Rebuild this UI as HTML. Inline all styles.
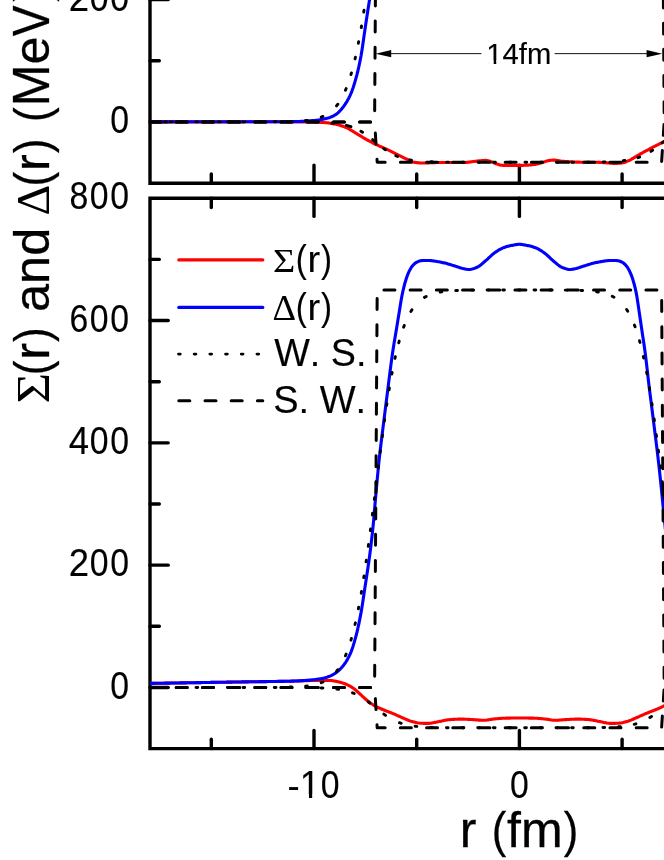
<!DOCTYPE html>
<html><head><meta charset="utf-8"><title>fig</title>
<style>html,body{margin:0;padding:0;background:#fff;}body{width:664px;height:860px;overflow:hidden;}svg{display:block;}text{font-family:"Liberation Sans",sans-serif;fill:#000;}.sym{font-family:"Liberation Serif",serif;}</style></head><body>
<svg width="664" height="860" viewBox="0 0 664 860">
<rect width="664" height="860" fill="#fff"/>
<g stroke="#000" stroke-width="3.4" fill="none" stroke-linecap="round" stroke-linejoin="miter">
<path d="M150.0 -5 V183.3 H700" stroke-linecap="butt"/>
<path d="M700 198.2 H150.0 V748.6 H700" stroke-linecap="butt"/>
<path d="M211.30 183.3 v-9.3"/>
<path d="M211.30 198.2 v9.3"/>
<path d="M211.30 748.6 v-9.3"/>
<path d="M314.00 183.3 v-18.2"/>
<path d="M314.00 198.2 v18.2"/>
<path d="M314.00 748.6 v-18.2"/>
<path d="M416.70 183.3 v-9.3"/>
<path d="M416.70 198.2 v9.3"/>
<path d="M416.70 748.6 v-9.3"/>
<path d="M519.40 183.3 v-18.2"/>
<path d="M519.40 198.2 v18.2"/>
<path d="M519.40 748.6 v-18.2"/>
<path d="M622.10 183.3 v-9.3"/>
<path d="M622.10 198.2 v9.3"/>
<path d="M622.10 748.6 v-9.3"/>
<path d="M724.80 183.3 v-18.2"/>
<path d="M724.80 198.2 v18.2"/>
<path d="M724.80 748.6 v-18.2"/>
<path d="M827.50 183.3 v-9.3"/>
<path d="M827.50 198.2 v9.3"/>
<path d="M827.50 748.6 v-9.3"/>
<path d="M150.0 687.45 h18.2"/>
<path d="M150.0 626.30 h9.3"/>
<path d="M150.0 565.15 h18.2"/>
<path d="M150.0 504.00 h9.3"/>
<path d="M150.0 442.85 h18.2"/>
<path d="M150.0 381.70 h9.3"/>
<path d="M150.0 320.55 h18.2"/>
<path d="M150.0 259.40 h9.3"/>
<path d="M150.0 121.90 h18.2"/>
<path d="M150.0 60.75 h9.3"/>
<path d="M150.0 -0.40 h18.2"/>
</g>
<clipPath id="ct"><rect x="150.0" y="-10.0" width="600" height="193.3"/></clipPath>
<g clip-path="url(#ct)" fill="none" stroke-linejoin="round">
<path d="M140.00 121.90 L141.00 121.90 L142.00 121.90 L143.00 121.90 L144.00 121.90 L145.00 121.90 L146.00 121.90 L147.00 121.90 L148.00 121.90 L149.00 121.90 L150.00 121.90 L151.00 121.90 L152.00 121.90 L153.00 121.90 L154.00 121.90 L155.00 121.90 L156.00 121.90 L157.00 121.90 L158.00 121.90 L159.00 121.90 L160.00 121.90 L161.00 121.90 L162.00 121.90 L163.00 121.90 L164.00 121.90 L165.00 121.90 L166.00 121.90 L167.00 121.90 L168.00 121.90 L169.00 121.89 L170.00 121.89 L171.00 121.89 L172.00 121.89 L173.00 121.89 L174.00 121.89 L175.00 121.89 L176.00 121.89 L177.00 121.89 L178.00 121.89 L179.00 121.89 L180.00 121.89 L181.00 121.89 L182.00 121.89 L183.00 121.89 L184.00 121.89 L185.00 121.88 L186.00 121.88 L187.00 121.88 L188.00 121.88 L189.00 121.88 L190.00 121.88 L191.00 121.88 L192.00 121.88 L193.00 121.88 L194.00 121.88 L195.00 121.88 L196.00 121.87 L197.00 121.87 L198.00 121.87 L199.00 121.87 L200.00 121.87 L201.00 121.87 L202.00 121.87 L203.00 121.87 L204.00 121.87 L205.00 121.87 L206.00 121.86 L207.00 121.86 L208.00 121.86 L209.00 121.86 L210.00 121.86 L211.00 121.86 L212.00 121.86 L213.00 121.86 L214.00 121.86 L215.00 121.86 L216.00 121.85 L217.00 121.85 L218.00 121.85 L219.00 121.85 L220.00 121.85 L221.00 121.85 L222.00 121.85 L223.00 121.85 L224.00 121.85 L225.00 121.84 L226.00 121.84 L227.00 121.84 L228.00 121.84 L229.00 121.84 L230.00 121.84 L231.00 121.84 L232.00 121.84 L233.00 121.84 L234.00 121.84 L235.00 121.83 L236.00 121.83 L237.00 121.83 L238.00 121.83 L239.00 121.83 L240.00 121.83 L241.00 121.83 L242.00 121.83 L243.00 121.83 L244.00 121.83 L245.00 121.82 L246.00 121.82 L247.00 121.82 L248.00 121.82 L249.00 121.82 L250.00 121.82 L251.00 121.82 L252.00 121.82 L253.00 121.82 L254.00 121.82 L255.00 121.82 L256.00 121.81 L257.00 121.81 L258.00 121.81 L259.00 121.81 L260.00 121.81 L261.00 121.81 L262.00 121.81 L263.00 121.81 L264.00 121.81 L265.00 121.81 L266.00 121.81 L267.00 121.81 L268.00 121.81 L269.00 121.81 L270.00 121.81 L271.00 121.81 L272.00 121.80 L273.00 121.80 L274.00 121.80 L275.00 121.80 L276.00 121.80 L277.00 121.80 L278.00 121.80 L279.00 121.80 L280.00 121.80 L281.00 121.80 L282.00 121.80 L283.00 121.80 L284.00 121.80 L285.00 121.80 L286.00 121.80 L287.00 121.80 L288.00 121.80 L289.00 121.80 L290.00 121.80 L291.00 121.80 L292.00 121.80 L293.00 121.81 L294.00 121.81 L295.00 121.81 L296.00 121.82 L297.00 121.83 L298.00 121.84 L299.00 121.84 L300.00 121.85 L301.00 121.87 L302.00 121.88 L303.00 121.89 L304.00 121.90 L305.00 121.92 L306.00 121.93 L307.00 121.95 L308.00 121.97 L309.00 121.98 L310.00 122.00 L311.00 122.02 L312.00 122.04 L313.00 122.06 L314.00 122.08 L315.00 122.10 L316.00 122.12 L317.00 122.16 L318.00 122.19 L319.00 122.23 L320.00 122.28 L321.00 122.34 L322.00 122.40 L323.00 122.46 L324.00 122.53 L325.00 122.60 L326.00 122.68 L327.00 122.79 L328.00 122.91 L329.00 123.05 L330.00 123.20 L331.00 123.36 L332.00 123.53 L333.00 123.72 L334.00 123.91 L335.00 124.10 L336.00 124.30 L337.00 124.53 L338.00 124.79 L339.00 125.07 L340.00 125.36 L341.00 125.66 L342.00 125.98 L343.00 126.31 L344.00 126.66 L345.00 127.04 L346.00 127.46 L347.00 127.92 L348.00 128.44 L349.00 129.00 L350.00 129.58 L351.00 130.17 L352.00 130.75 L353.00 131.36 L354.00 131.98 L355.00 132.61 L356.00 133.23 L357.00 133.84 L358.00 134.45 L359.00 135.06 L360.00 135.66 L361.00 136.26 L362.00 136.86 L363.00 137.46 L364.00 138.05 L365.00 138.64 L366.00 139.22 L367.00 139.79 L368.00 140.34 L369.00 140.89 L370.00 141.43 L371.00 141.96 L372.00 142.49 L373.00 143.00 L374.00 143.51 L375.00 144.01 L376.00 144.49 L377.00 144.96 L378.00 145.42 L379.00 145.87 L380.00 146.31 L381.00 146.75 L382.00 147.20 L383.00 147.64 L384.00 148.10 L385.00 148.56 L386.00 149.02 L387.00 149.49 L388.00 149.95 L389.00 150.42 L390.00 150.89 L391.00 151.37 L392.00 151.84 L393.00 152.32 L394.00 152.81 L395.00 153.30 L396.00 153.80 L397.00 154.31 L398.00 154.84 L399.00 155.36 L400.00 155.88 L401.00 156.40 L402.00 156.91 L403.00 157.40 L404.00 157.88 L405.00 158.35 L406.00 158.80 L407.00 159.26 L408.00 159.70 L409.00 160.17 L410.00 160.68 L411.00 161.18 L412.00 161.63 L413.00 161.99 L414.00 162.22 L415.00 162.38 L416.00 162.53 L417.00 162.66 L418.00 162.78 L419.00 162.87 L420.00 162.94 L421.00 162.99 L422.00 163.00 L423.00 162.99 L424.00 162.98 L425.00 162.96 L426.00 162.93 L427.00 162.90 L428.00 162.87 L429.00 162.83 L430.00 162.79 L431.00 162.74 L432.00 162.70 L433.00 162.66 L434.00 162.62 L435.00 162.59 L436.00 162.56 L437.00 162.53 L438.00 162.51 L439.00 162.50 L440.00 162.50 L441.00 162.50 L442.00 162.50 L443.00 162.50 L444.00 162.50 L445.00 162.50 L446.00 162.50 L447.00 162.50 L448.00 162.50 L449.00 162.50 L450.00 162.50 L451.00 162.50 L452.00 162.50 L453.00 162.50 L454.00 162.50 L455.00 162.50 L456.00 162.50 L457.00 162.50 L458.00 162.50 L459.00 162.50 L460.00 162.50 L461.00 162.50 L462.00 162.50 L463.00 162.50 L464.00 162.50 L465.00 162.47 L466.00 162.41 L467.00 162.33 L468.00 162.23 L469.00 162.11 L470.00 161.98 L471.00 161.85 L472.00 161.72 L473.00 161.58 L474.00 161.46 L475.00 161.35 L476.00 161.25 L477.00 161.14 L478.00 161.03 L479.00 160.91 L480.00 160.79 L481.00 160.68 L482.00 160.58 L483.00 160.50 L484.00 160.44 L485.00 160.40 L486.00 160.42 L487.00 160.54 L488.00 160.75 L489.00 161.02 L490.00 161.33 L491.00 161.65 L492.00 161.96 L493.00 162.36 L494.00 162.81 L495.00 163.28 L496.00 163.72 L497.00 164.08 L498.00 164.36 L499.00 164.64 L500.00 164.90 L501.00 165.13 L502.00 165.30 L503.00 165.39 L504.00 165.40 L505.00 165.40 L506.00 165.40 L507.00 165.40 L508.00 165.40 L509.00 165.40 L510.00 165.40 L511.00 165.40 L512.00 165.40 L513.00 165.40 L514.00 165.40 L515.00 165.40 L516.00 165.40 L517.00 165.40 L518.00 165.40 L519.00 165.40 L520.00 165.40 L521.00 165.39 L522.00 165.37 L523.00 165.34 L524.00 165.30 L525.00 165.26 L526.00 165.21 L527.00 165.16 L528.00 165.09 L529.00 165.03 L530.00 164.95 L531.00 164.88 L532.00 164.80 L533.00 164.70 L534.00 164.55 L535.00 164.36 L536.00 164.15 L537.00 163.92 L538.00 163.68 L539.00 163.44 L540.00 163.20 L541.00 162.94 L542.00 162.64 L543.00 162.31 L544.00 161.97 L545.00 161.63 L546.00 161.30 L547.00 161.00 L548.00 160.74 L549.00 160.53 L550.00 160.39 L551.00 160.28 L552.00 160.19 L553.00 160.12 L554.00 160.10 L555.00 160.15 L556.00 160.26 L557.00 160.42 L558.00 160.60 L559.00 160.79 L560.00 160.97 L561.00 161.12 L562.00 161.22 L563.00 161.29 L564.00 161.37 L565.00 161.45 L566.00 161.52 L567.00 161.59 L568.00 161.66 L569.00 161.73 L570.00 161.79 L571.00 161.85 L572.00 161.91 L573.00 161.96 L574.00 162.01 L575.00 162.05 L576.00 162.09 L577.00 162.13 L578.00 162.15 L579.00 162.17 L580.00 162.19 L581.00 162.20 L582.00 162.20 L583.00 162.20 L584.00 162.20 L585.00 162.20 L586.00 162.20 L587.00 162.20 L588.00 162.20 L589.00 162.20 L590.00 162.20 L591.00 162.20 L592.00 162.20 L593.00 162.20 L594.00 162.20 L595.00 162.21 L596.00 162.23 L597.00 162.27 L598.00 162.31 L599.00 162.36 L600.00 162.42 L601.00 162.48 L602.00 162.55 L603.00 162.61 L604.00 162.67 L605.00 162.73 L606.00 162.80 L607.00 162.88 L608.00 162.97 L609.00 163.05 L610.00 163.14 L611.00 163.22 L612.00 163.29 L613.00 163.35 L614.00 163.38 L615.00 163.40 L616.00 163.39 L617.00 163.36 L618.00 163.31 L619.00 163.24 L620.00 163.16 L621.00 163.06 L622.00 162.96 L623.00 162.83 L624.00 162.59 L625.00 162.26 L626.00 161.86 L627.00 161.42 L628.00 160.96 L629.00 160.51 L630.00 160.03 L631.00 159.49 L632.00 158.91 L633.00 158.32 L634.00 157.71 L635.00 157.10 L636.00 156.51 L637.00 155.94 L638.00 155.37 L639.00 154.79 L640.00 154.21 L641.00 153.63 L642.00 153.06 L643.00 152.49 L644.00 151.93 L645.00 151.38 L646.00 150.84 L647.00 150.31 L648.00 149.79 L649.00 149.26 L650.00 148.75 L651.00 148.23 L652.00 147.72 L653.00 147.20 L654.00 146.68 L655.00 146.17 L656.00 145.65 L657.00 145.14 L658.00 144.63 L659.00 144.12 L660.00 143.61 L661.00 143.10 L662.00 142.60 L663.00 142.10 L664.00 141.60 L665.00 141.10 L666.00 140.61 L667.00 140.11 L668.00 139.61 L669.00 139.12 L670.00 138.63 L671.00 138.14 L672.00 137.66 L673.00 137.18 L674.00 136.71 L675.00 136.25 L676.00 135.80 L677.00 135.36 L678.00 134.91 L679.00 134.48 L680.00 134.05 L681.00 133.62 L682.00 133.20 L683.00 132.78 L684.00 132.36 L685.00 131.96 L686.00 131.55 L687.00 131.16 L688.00 130.77 L689.00 130.38 L690.00 130.00" stroke="#f00" stroke-width="3.1"/>
<path d="M140.00 121.80 L141.00 121.80 L142.00 121.80 L143.00 121.80 L144.00 121.80 L145.00 121.80 L146.00 121.80 L147.00 121.80 L148.00 121.80 L149.00 121.80 L150.00 121.80 L151.00 121.80 L152.00 121.80 L153.00 121.80 L154.00 121.80 L155.00 121.80 L156.00 121.80 L157.00 121.80 L158.00 121.80 L159.00 121.80 L160.00 121.80 L161.00 121.80 L162.00 121.80 L163.00 121.80 L164.00 121.80 L165.00 121.80 L166.00 121.80 L167.00 121.80 L168.00 121.80 L169.00 121.80 L170.00 121.80 L171.00 121.80 L172.00 121.80 L173.00 121.80 L174.00 121.80 L175.00 121.80 L176.00 121.80 L177.00 121.80 L178.00 121.80 L179.00 121.80 L180.00 121.80 L181.00 121.80 L182.00 121.80 L183.00 121.80 L184.00 121.80 L185.00 121.80 L186.00 121.80 L187.00 121.80 L188.00 121.80 L189.00 121.80 L190.00 121.80 L191.00 121.79 L192.00 121.79 L193.00 121.79 L194.00 121.79 L195.00 121.79 L196.00 121.79 L197.00 121.79 L198.00 121.79 L199.00 121.79 L200.00 121.79 L201.00 121.79 L202.00 121.79 L203.00 121.79 L204.00 121.79 L205.00 121.79 L206.00 121.79 L207.00 121.79 L208.00 121.79 L209.00 121.79 L210.00 121.79 L211.00 121.79 L212.00 121.79 L213.00 121.79 L214.00 121.79 L215.00 121.78 L216.00 121.78 L217.00 121.78 L218.00 121.78 L219.00 121.78 L220.00 121.78 L221.00 121.78 L222.00 121.78 L223.00 121.78 L224.00 121.78 L225.00 121.78 L226.00 121.78 L227.00 121.78 L228.00 121.78 L229.00 121.78 L230.00 121.78 L231.00 121.77 L232.00 121.77 L233.00 121.77 L234.00 121.77 L235.00 121.77 L236.00 121.77 L237.00 121.77 L238.00 121.77 L239.00 121.77 L240.00 121.77 L241.00 121.77 L242.00 121.77 L243.00 121.76 L244.00 121.76 L245.00 121.76 L246.00 121.76 L247.00 121.76 L248.00 121.76 L249.00 121.76 L250.00 121.76 L251.00 121.76 L252.00 121.75 L253.00 121.75 L254.00 121.75 L255.00 121.75 L256.00 121.75 L257.00 121.75 L258.00 121.75 L259.00 121.75 L260.00 121.75 L261.00 121.74 L262.00 121.74 L263.00 121.74 L264.00 121.74 L265.00 121.74 L266.00 121.74 L267.00 121.74 L268.00 121.74 L269.00 121.73 L270.00 121.73 L271.00 121.73 L272.00 121.73 L273.00 121.73 L274.00 121.73 L275.00 121.73 L276.00 121.72 L277.00 121.72 L278.00 121.72 L279.00 121.72 L280.00 121.72 L281.00 121.72 L282.00 121.71 L283.00 121.71 L284.00 121.71 L285.00 121.71 L286.00 121.71 L287.00 121.71 L288.00 121.70 L289.00 121.70 L290.00 121.70 L291.00 121.70 L292.00 121.69 L293.00 121.67 L294.00 121.65 L295.00 121.63 L296.00 121.60 L297.00 121.56 L298.00 121.53 L299.00 121.49 L300.00 121.44 L301.00 121.39 L302.00 121.34 L303.00 121.28 L304.00 121.23 L305.00 121.16 L306.00 121.10 L307.00 121.03 L308.00 120.96 L309.00 120.89 L310.00 120.82 L311.00 120.74 L312.00 120.67 L313.00 120.59 L314.00 120.51 L315.00 120.42 L316.00 120.32 L317.00 120.21 L318.00 120.09 L319.00 119.95 L320.00 119.80 L321.00 119.63 L322.00 119.46 L323.00 119.27 L324.00 119.06 L325.00 118.85 L326.00 118.62 L327.00 118.37 L328.00 118.08 L329.00 117.76 L330.00 117.39 L331.00 116.98 L332.00 116.54 L333.00 116.06 L334.00 115.53 L335.00 114.98 L336.00 114.38 L337.00 113.66 L338.00 112.81 L339.00 111.85 L340.00 110.79 L341.00 109.65 L342.00 108.45 L343.00 107.20 L344.00 105.89 L345.00 104.48 L346.00 102.97 L347.00 101.33 L348.00 99.57 L349.00 97.67 L350.00 95.63 L351.00 93.38 L352.00 90.83 L353.00 88.01 L354.00 84.94 L355.00 81.65 L356.00 78.18 L357.00 74.48 L358.00 70.42 L359.00 65.98 L360.00 61.15 L361.00 55.94 L362.00 50.00 L363.00 43.20 L364.00 36.11 L365.00 29.29 L366.00 22.58 L367.00 15.92 L368.00 9.46 L369.00 3.26 L370.00 -3.44 L371.00 -10.66 L372.00 -18.19 L373.00 -25.85 L374.00 -33.69 L375.00 -41.74 L376.00 -50.00" stroke="#00f" stroke-width="3.1"/>
<path d="M149.68 121.90 L150.78 121.90M164.73 121.90 L166.43 121.90M180.38 121.90 L182.08 121.90M196.03 121.90 L197.73 121.90M211.68 121.90 L213.38 121.90M227.33 121.90 L229.03 121.90M242.98 121.89 L244.68 121.89M258.63 121.87 L260.33 121.87M274.28 121.79 L275.98 121.78M289.93 121.52 L291.63 121.46M305.58 120.55 L307.28 120.35M321.23 117.14 L322.93 116.45M336.53 105.90 L337.83 104.20M345.46 90.25 L346.16 88.55M350.95 74.60 L351.44 72.90M355.03 58.95 L355.42 57.25M358.36 43.30 L358.69 41.60M361.22 27.65 L361.51 25.95M363.77 12.00 L364.03 10.30M366.10 -3.65 L366.34 -5.35M368.27 -19.30 L368.50 -21.00M370.35 -34.95 L370.57 -36.65M372.35 -50.60 L372.56 -52.30M374.31 -66.25 L374.52 -67.95M376.25 -81.90 L376.46 -83.60M378.20 -97.55 L378.41 -99.25M380.18 -113.20 L380.40 -114.90M382.22 -128.85 L382.45 -130.55M384.36 -144.50 L384.60 -146.20M386.63 -160.15 L386.89 -161.85M389.09 -175.80 L389.37 -177.50M391.83 -191.45 L392.14 -193.15M394.96 -207.10 L395.34 -208.80M398.73 -222.75 L399.20 -224.45M403.61 -238.40 L404.25 -240.10M410.87 -254.05 L411.94 -255.75M424.48 -268.17 L426.18 -269.11M440.13 -273.47 L441.83 -273.74M455.78 -274.98 L457.48 -275.06M471.43 -275.41 L473.13 -275.43M487.08 -275.53 L488.78 -275.53M502.73 -275.56 L504.43 -275.56M518.38 -275.57 L520.08 -275.57M534.03 -275.56 L535.73 -275.56M549.68 -275.54 L551.38 -275.53M565.33 -275.43 L567.03 -275.41M580.98 -275.07 L582.68 -275.00M596.63 -273.79 L598.33 -273.52M612.28 -269.28 L613.98 -268.37M626.64 -256.09 L627.73 -254.39M634.42 -240.44 L635.06 -238.74M639.51 -224.79 L639.97 -223.09M643.39 -209.14 L643.76 -207.44M646.59 -193.49 L646.91 -191.79M649.37 -177.84 L649.65 -176.14M651.86 -162.19 L652.12 -160.49M654.15 -146.54 L654.39 -144.84M656.30 -130.89 L656.53 -129.19M658.36 -115.24 L658.58 -113.54M660.35 -99.59 L660.56 -97.89M662.30 -83.94 L662.51 -82.24M664.24 -68.29 L664.45 -66.59M666.20 -52.64 L666.41 -50.94M668.19 -36.99 L668.41 -35.29M670.25 -21.34 L670.48 -19.64M672.41 -5.69 L672.66 -3.99M674.72 9.96 L674.98 11.66M677.23 25.61 L677.52 27.31M170.25 121.90 L171.95 121.90M218.45 121.90 L220.15 121.90M332.05 123.04 L333.75 123.20M346.45 125.35 L348.15 125.82M349.25 126.14 L350.95 126.70M360.85 131.24 L362.55 132.27M372.65 139.66 L374.35 141.04M383.75 148.51 L385.45 149.73M395.85 155.72 L397.55 156.44M409.85 159.90 L411.55 160.19M431.10 161.82 L432.80 161.87M446.75 162.13 L448.45 162.15M462.40 162.22 L464.10 162.23M478.05 162.25 L479.75 162.25M493.70 162.26 L495.40 162.26M509.35 162.26 L511.05 162.26M525.00 162.26 L526.70 162.26M540.65 162.26 L542.35 162.26M556.30 162.25 L558.00 162.25M571.95 162.23 L573.65 162.23M587.60 162.17 L589.30 162.16M603.25 161.95 L604.95 161.90M623.15 160.75 L624.85 160.54M637.95 157.65 L639.65 157.06M650.95 151.35 L652.65 150.22M662.15 142.92 L663.85 141.53" stroke="#000" stroke-width="2.9" stroke-linecap="round"/>
<path d="M150.00 121.90 L374.60 121.90 L377.20 -275.58 L661.60 -275.58 L664.20 121.90 L889.12 121.90" stroke="#000" stroke-width="3.0" stroke-dasharray="11.00 15.20" stroke-linecap="round"/>
<path d="M150.00 121.90 L374.60 121.90 L377.20 162.26 L661.60 162.26 L664.20 121.90 L889.12 121.90" stroke="#000" stroke-width="3.0" stroke-dasharray="11.00 15.20" stroke-linecap="round"/>
</g>
<clipPath id="cb"><rect x="150.0" y="198.2" width="600" height="550.4"/></clipPath>
<g clip-path="url(#cb)" fill="none" stroke-linejoin="round">
<path d="M140.00 683.55 L141.00 683.54 L142.00 683.52 L143.00 683.51 L144.00 683.49 L145.00 683.48 L146.00 683.46 L147.00 683.45 L148.00 683.43 L149.00 683.42 L150.00 683.40 L151.00 683.38 L152.00 683.37 L153.00 683.35 L154.00 683.34 L155.00 683.32 L156.00 683.31 L157.00 683.29 L158.00 683.28 L159.00 683.26 L160.00 683.24 L161.00 683.23 L162.00 683.21 L163.00 683.20 L164.00 683.18 L165.00 683.16 L166.00 683.15 L167.00 683.13 L168.00 683.12 L169.00 683.10 L170.00 683.08 L171.00 683.07 L172.00 683.05 L173.00 683.04 L174.00 683.02 L175.00 683.00 L176.00 682.99 L177.00 682.97 L178.00 682.96 L179.00 682.94 L180.00 682.92 L181.00 682.91 L182.00 682.89 L183.00 682.87 L184.00 682.86 L185.00 682.84 L186.00 682.83 L187.00 682.81 L188.00 682.79 L189.00 682.78 L190.00 682.76 L191.00 682.74 L192.00 682.73 L193.00 682.71 L194.00 682.70 L195.00 682.68 L196.00 682.66 L197.00 682.65 L198.00 682.63 L199.00 682.62 L200.00 682.60 L201.00 682.58 L202.00 682.57 L203.00 682.55 L204.00 682.54 L205.00 682.52 L206.00 682.50 L207.00 682.49 L208.00 682.47 L209.00 682.46 L210.00 682.44 L211.00 682.42 L212.00 682.41 L213.00 682.39 L214.00 682.37 L215.00 682.36 L216.00 682.34 L217.00 682.33 L218.00 682.31 L219.00 682.29 L220.00 682.28 L221.00 682.26 L222.00 682.25 L223.00 682.23 L224.00 682.21 L225.00 682.20 L226.00 682.18 L227.00 682.16 L228.00 682.15 L229.00 682.13 L230.00 682.12 L231.00 682.10 L232.00 682.08 L233.00 682.07 L234.00 682.05 L235.00 682.04 L236.00 682.02 L237.00 682.00 L238.00 681.99 L239.00 681.97 L240.00 681.96 L241.00 681.94 L242.00 681.92 L243.00 681.91 L244.00 681.89 L245.00 681.88 L246.00 681.86 L247.00 681.85 L248.00 681.83 L249.00 681.82 L250.00 681.80 L251.00 681.78 L252.00 681.77 L253.00 681.75 L254.00 681.74 L255.00 681.73 L256.00 681.71 L257.00 681.70 L258.00 681.68 L259.00 681.67 L260.00 681.66 L261.00 681.64 L262.00 681.63 L263.00 681.61 L264.00 681.60 L265.00 681.59 L266.00 681.57 L267.00 681.56 L268.00 681.55 L269.00 681.53 L270.00 681.52 L271.00 681.51 L272.00 681.49 L273.00 681.48 L274.00 681.46 L275.00 681.45 L276.00 681.43 L277.00 681.42 L278.00 681.40 L279.00 681.39 L280.00 681.37 L281.00 681.36 L282.00 681.34 L283.00 681.33 L284.00 681.31 L285.00 681.29 L286.00 681.27 L287.00 681.26 L288.00 681.24 L289.00 681.22 L290.00 681.20 L291.00 681.18 L292.00 681.16 L293.00 681.13 L294.00 681.10 L295.00 681.07 L296.00 681.04 L297.00 681.01 L298.00 680.98 L299.00 680.94 L300.00 680.91 L301.00 680.87 L302.00 680.84 L303.00 680.80 L304.00 680.77 L305.00 680.73 L306.00 680.70 L307.00 680.66 L308.00 680.63 L309.00 680.60 L310.00 680.57 L311.00 680.54 L312.00 680.51 L313.00 680.49 L314.00 680.47 L315.00 680.45 L316.00 680.43 L317.00 680.42 L318.00 680.41 L319.00 680.40 L320.00 680.40 L321.00 680.40 L322.00 680.40 L323.00 680.41 L324.00 680.42 L325.00 680.43 L326.00 680.44 L327.00 680.45 L328.00 680.46 L329.00 680.48 L330.00 680.50 L331.00 680.54 L332.00 680.64 L333.00 680.77 L334.00 680.93 L335.00 681.12 L336.00 681.33 L337.00 681.55 L338.00 681.77 L339.00 682.00 L340.00 682.24 L341.00 682.50 L342.00 682.79 L343.00 683.11 L344.00 683.45 L345.00 683.82 L346.00 684.21 L347.00 684.62 L348.00 685.06 L349.00 685.53 L350.00 686.08 L351.00 686.68 L352.00 687.33 L353.00 688.01 L354.00 688.73 L355.00 689.49 L356.00 690.34 L357.00 691.24 L358.00 692.17 L359.00 693.10 L360.00 694.01 L361.00 694.91 L362.00 695.83 L363.00 696.77 L364.00 697.69 L365.00 698.61 L366.00 699.49 L367.00 700.34 L368.00 701.13 L369.00 701.91 L370.00 702.66 L371.00 703.40 L372.00 704.10 L373.00 704.77 L374.00 705.41 L375.00 705.99 L376.00 706.53 L377.00 707.02 L378.00 707.49 L379.00 707.94 L380.00 708.37 L381.00 708.79 L382.00 709.20 L383.00 709.63 L384.00 710.04 L385.00 710.44 L386.00 710.84 L387.00 711.22 L388.00 711.61 L389.00 711.99 L390.00 712.38 L391.00 712.77 L392.00 713.17 L393.00 713.57 L394.00 714.00 L395.00 714.43 L396.00 714.88 L397.00 715.33 L398.00 715.79 L399.00 716.25 L400.00 716.70 L401.00 717.14 L402.00 717.57 L403.00 718.00 L404.00 718.44 L405.00 718.88 L406.00 719.32 L407.00 719.75 L408.00 720.16 L409.00 720.55 L410.00 720.90 L411.00 721.22 L412.00 721.49 L413.00 721.77 L414.00 722.04 L415.00 722.30 L416.00 722.54 L417.00 722.76 L418.00 722.94 L419.00 723.08 L420.00 723.18 L421.00 723.23 L422.00 723.27 L423.00 723.31 L424.00 723.34 L425.00 723.36 L426.00 723.38 L427.00 723.40 L428.00 723.40 L429.00 723.37 L430.00 723.29 L431.00 723.16 L432.00 722.99 L433.00 722.80 L434.00 722.59 L435.00 722.37 L436.00 722.15 L437.00 721.93 L438.00 721.73 L439.00 721.55 L440.00 721.36 L441.00 721.16 L442.00 720.95 L443.00 720.74 L444.00 720.53 L445.00 720.33 L446.00 720.13 L447.00 719.96 L448.00 719.81 L449.00 719.69 L450.00 719.60 L451.00 719.53 L452.00 719.46 L453.00 719.40 L454.00 719.34 L455.00 719.28 L456.00 719.23 L457.00 719.19 L458.00 719.15 L459.00 719.13 L460.00 719.11 L461.00 719.10 L462.00 719.10 L463.00 719.12 L464.00 719.15 L465.00 719.18 L466.00 719.23 L467.00 719.28 L468.00 719.34 L469.00 719.39 L470.00 719.45 L471.00 719.51 L472.00 719.57 L473.00 719.62 L474.00 719.69 L475.00 719.76 L476.00 719.84 L477.00 719.92 L478.00 720.00 L479.00 720.08 L480.00 720.15 L481.00 720.21 L482.00 720.26 L483.00 720.29 L484.00 720.30 L485.00 720.26 L486.00 720.18 L487.00 720.05 L488.00 719.89 L489.00 719.72 L490.00 719.54 L491.00 719.37 L492.00 719.22 L493.00 719.10 L494.00 719.00 L495.00 718.90 L496.00 718.79 L497.00 718.69 L498.00 718.60 L499.00 718.51 L500.00 718.42 L501.00 718.35 L502.00 718.29 L503.00 718.24 L504.00 718.21 L505.00 718.18 L506.00 718.16 L507.00 718.14 L508.00 718.12 L509.00 718.10 L510.00 718.08 L511.00 718.07 L512.00 718.05 L513.00 718.04 L514.00 718.03 L515.00 718.02 L516.00 718.01 L517.00 718.01 L518.00 718.00 L519.00 718.00 L520.00 718.00 L521.00 718.00 L522.00 718.01 L523.00 718.01 L524.00 718.02 L525.00 718.03 L526.00 718.04 L527.00 718.06 L528.00 718.07 L529.00 718.09 L530.00 718.10 L531.00 718.12 L532.00 718.14 L533.00 718.16 L534.00 718.19 L535.00 718.21 L536.00 718.25 L537.00 718.30 L538.00 718.36 L539.00 718.44 L540.00 718.52 L541.00 718.62 L542.00 718.71 L543.00 718.81 L544.00 718.92 L545.00 719.02 L546.00 719.12 L547.00 719.25 L548.00 719.40 L549.00 719.58 L550.00 719.75 L551.00 719.92 L552.00 720.08 L553.00 720.20 L554.00 720.28 L555.00 720.30 L556.00 720.29 L557.00 720.25 L558.00 720.20 L559.00 720.14 L560.00 720.07 L561.00 719.99 L562.00 719.90 L563.00 719.82 L564.00 719.74 L565.00 719.67 L566.00 719.61 L567.00 719.56 L568.00 719.50 L569.00 719.44 L570.00 719.38 L571.00 719.32 L572.00 719.27 L573.00 719.22 L574.00 719.18 L575.00 719.14 L576.00 719.12 L577.00 719.10 L578.00 719.10 L579.00 719.11 L580.00 719.13 L581.00 719.16 L582.00 719.20 L583.00 719.24 L584.00 719.29 L585.00 719.35 L586.00 719.41 L587.00 719.48 L588.00 719.54 L589.00 719.61 L590.00 719.71 L591.00 719.84 L592.00 719.99 L593.00 720.17 L594.00 720.37 L595.00 720.57 L596.00 720.78 L597.00 720.99 L598.00 721.20 L599.00 721.40 L600.00 721.58 L601.00 721.77 L602.00 721.97 L603.00 722.19 L604.00 722.41 L605.00 722.64 L606.00 722.84 L607.00 723.03 L608.00 723.19 L609.00 723.31 L610.00 723.38 L611.00 723.40 L612.00 723.39 L613.00 723.38 L614.00 723.36 L615.00 723.33 L616.00 723.30 L617.00 723.26 L618.00 723.22 L619.00 723.16 L620.00 723.06 L621.00 722.91 L622.00 722.72 L623.00 722.50 L624.00 722.25 L625.00 721.99 L626.00 721.72 L627.00 721.44 L628.00 721.16 L629.00 720.84 L630.00 720.47 L631.00 720.08 L632.00 719.66 L633.00 719.23 L634.00 718.79 L635.00 718.35 L636.00 717.91 L637.00 717.49 L638.00 717.05 L639.00 716.61 L640.00 716.15 L641.00 715.70 L642.00 715.24 L643.00 714.79 L644.00 714.35 L645.00 713.91 L646.00 713.49 L647.00 713.08 L648.00 712.69 L649.00 712.30 L650.00 711.91 L651.00 711.53 L652.00 711.15 L653.00 710.76 L654.00 710.36 L655.00 709.96 L656.00 709.54 L657.00 709.12 L658.00 708.70 L659.00 708.28 L660.00 707.85 L661.00 707.40 L662.00 706.93 L663.00 706.42 L664.00 705.88 L665.00 705.28 L666.00 704.64 L667.00 703.96 L668.00 703.25 L669.00 702.51 L670.00 701.75 L671.00 700.98 L672.00 700.17 L673.00 699.32 L674.00 698.43 L675.00 697.51 L676.00 696.58 L677.00 695.65 L678.00 694.73 L679.00 693.83 L680.00 692.91 L681.00 691.98 L682.00 691.05 L683.00 690.16 L684.00 689.33 L685.00 688.58 L686.00 687.87 L687.00 687.19 L688.00 686.55 L689.00 685.96 L690.00 685.43" stroke="#f00" stroke-width="3.1"/>
<path d="M140.00 683.55 L141.00 683.54 L142.00 683.52 L143.00 683.51 L144.00 683.49 L145.00 683.48 L146.00 683.46 L147.00 683.45 L148.00 683.43 L149.00 683.42 L150.00 683.40 L151.00 683.38 L152.00 683.37 L153.00 683.35 L154.00 683.34 L155.00 683.32 L156.00 683.31 L157.00 683.29 L158.00 683.28 L159.00 683.26 L160.00 683.24 L161.00 683.23 L162.00 683.21 L163.00 683.20 L164.00 683.18 L165.00 683.16 L166.00 683.15 L167.00 683.13 L168.00 683.12 L169.00 683.10 L170.00 683.08 L171.00 683.07 L172.00 683.05 L173.00 683.04 L174.00 683.02 L175.00 683.00 L176.00 682.99 L177.00 682.97 L178.00 682.96 L179.00 682.94 L180.00 682.92 L181.00 682.91 L182.00 682.89 L183.00 682.87 L184.00 682.86 L185.00 682.84 L186.00 682.83 L187.00 682.81 L188.00 682.79 L189.00 682.78 L190.00 682.76 L191.00 682.74 L192.00 682.73 L193.00 682.71 L194.00 682.70 L195.00 682.68 L196.00 682.66 L197.00 682.65 L198.00 682.63 L199.00 682.62 L200.00 682.60 L201.00 682.58 L202.00 682.57 L203.00 682.55 L204.00 682.54 L205.00 682.52 L206.00 682.50 L207.00 682.49 L208.00 682.47 L209.00 682.46 L210.00 682.44 L211.00 682.42 L212.00 682.41 L213.00 682.39 L214.00 682.37 L215.00 682.36 L216.00 682.34 L217.00 682.33 L218.00 682.31 L219.00 682.29 L220.00 682.28 L221.00 682.26 L222.00 682.25 L223.00 682.23 L224.00 682.21 L225.00 682.20 L226.00 682.18 L227.00 682.16 L228.00 682.15 L229.00 682.13 L230.00 682.12 L231.00 682.10 L232.00 682.08 L233.00 682.07 L234.00 682.05 L235.00 682.04 L236.00 682.02 L237.00 682.00 L238.00 681.99 L239.00 681.97 L240.00 681.96 L241.00 681.94 L242.00 681.92 L243.00 681.91 L244.00 681.89 L245.00 681.88 L246.00 681.86 L247.00 681.85 L248.00 681.83 L249.00 681.82 L250.00 681.80 L251.00 681.78 L252.00 681.77 L253.00 681.76 L254.00 681.74 L255.00 681.73 L256.00 681.72 L257.00 681.70 L258.00 681.69 L259.00 681.68 L260.00 681.67 L261.00 681.65 L262.00 681.64 L263.00 681.63 L264.00 681.62 L265.00 681.61 L266.00 681.60 L267.00 681.58 L268.00 681.57 L269.00 681.56 L270.00 681.55 L271.00 681.54 L272.00 681.52 L273.00 681.51 L274.00 681.50 L275.00 681.48 L276.00 681.47 L277.00 681.45 L278.00 681.44 L279.00 681.42 L280.00 681.41 L281.00 681.39 L282.00 681.37 L283.00 681.35 L284.00 681.33 L285.00 681.31 L286.00 681.29 L287.00 681.27 L288.00 681.25 L289.00 681.22 L290.00 681.20 L291.00 681.17 L292.00 681.14 L293.00 681.11 L294.00 681.07 L295.00 681.03 L296.00 680.99 L297.00 680.94 L298.00 680.89 L299.00 680.84 L300.00 680.78 L301.00 680.72 L302.00 680.66 L303.00 680.60 L304.00 680.53 L305.00 680.46 L306.00 680.39 L307.00 680.32 L308.00 680.25 L309.00 680.17 L310.00 680.09 L311.00 680.00 L312.00 679.90 L313.00 679.79 L314.00 679.68 L315.00 679.56 L316.00 679.43 L317.00 679.30 L318.00 679.15 L319.00 679.00 L320.00 678.83 L321.00 678.66 L322.00 678.46 L323.00 678.24 L324.00 678.01 L325.00 677.75 L326.00 677.46 L327.00 677.16 L328.00 676.83 L329.00 676.48 L330.00 676.11 L331.00 675.67 L332.00 675.17 L333.00 674.61 L334.00 674.00 L335.00 673.35 L336.00 672.66 L337.00 671.93 L338.00 671.12 L339.00 670.23 L340.00 669.27 L341.00 668.23 L342.00 667.11 L343.00 665.92 L344.00 664.65 L345.00 663.28 L346.00 661.77 L347.00 660.14 L348.00 658.36 L349.00 656.44 L350.00 654.36 L351.00 652.05 L352.00 649.38 L353.00 646.39 L354.00 643.14 L355.00 639.67 L356.00 636.00 L357.00 632.01 L358.00 627.69 L359.00 623.06 L360.00 618.13 L361.00 612.87 L362.00 606.97 L363.00 600.51 L364.00 593.76 L365.00 586.99 L366.00 580.42 L367.00 573.94 L368.00 567.34 L369.00 560.43 L370.00 553.00 L371.00 544.98 L372.00 536.35 L373.00 526.99 L374.00 516.53 L375.00 504.45 L376.00 492.92 L377.00 481.82 L378.00 471.11 L379.00 461.14 L380.00 452.11 L381.00 443.73 L382.00 435.66 L383.00 427.57 L384.00 419.58 L385.00 411.65 L386.00 403.76 L387.00 395.83 L388.00 387.86 L389.00 379.91 L390.00 371.86 L391.00 364.16 L392.00 356.91 L393.00 350.03 L394.00 343.63 L395.00 337.68 L396.00 331.80 L397.00 325.71 L398.00 319.52 L399.00 313.40 L400.00 307.25 L401.00 301.10 L402.00 295.49 L403.00 290.75 L404.00 286.52 L405.00 282.76 L406.00 279.47 L407.00 276.49 L408.00 273.87 L409.00 271.65 L410.00 269.65 L411.00 267.90 L412.00 266.45 L413.00 265.27 L414.00 264.22 L415.00 263.33 L416.00 262.62 L417.00 262.10 L418.00 261.61 L419.00 261.19 L420.00 260.85 L421.00 260.65 L422.00 260.59 L423.00 260.57 L424.00 260.55 L425.00 260.53 L426.00 260.52 L427.00 260.51 L428.00 260.50 L429.00 260.50 L430.00 260.53 L431.00 260.60 L432.00 260.71 L433.00 260.85 L434.00 261.00 L435.00 261.17 L436.00 261.34 L437.00 261.50 L438.00 261.66 L439.00 261.83 L440.00 262.02 L441.00 262.22 L442.00 262.42 L443.00 262.64 L444.00 262.87 L445.00 263.10 L446.00 263.35 L447.00 263.62 L448.00 263.91 L449.00 264.20 L450.00 264.51 L451.00 264.82 L452.00 265.14 L453.00 265.45 L454.00 265.75 L455.00 266.06 L456.00 266.38 L457.00 266.71 L458.00 267.05 L459.00 267.38 L460.00 267.70 L461.00 268.01 L462.00 268.29 L463.00 268.54 L464.00 268.75 L465.00 268.95 L466.00 269.15 L467.00 269.33 L468.00 269.45 L469.00 269.50 L470.00 269.45 L471.00 269.30 L472.00 269.07 L473.00 268.78 L474.00 268.45 L475.00 268.08 L476.00 267.69 L477.00 267.29 L478.00 266.78 L479.00 266.17 L480.00 265.47 L481.00 264.70 L482.00 263.88 L483.00 263.02 L484.00 262.15 L485.00 261.27 L486.00 260.42 L487.00 259.58 L488.00 258.68 L489.00 257.73 L490.00 256.76 L491.00 255.80 L492.00 254.88 L493.00 254.02 L494.00 253.25 L495.00 252.55 L496.00 251.86 L497.00 251.19 L498.00 250.54 L499.00 249.92 L500.00 249.35 L501.00 248.81 L502.00 248.32 L503.00 247.88 L504.00 247.50 L505.00 247.16 L506.00 246.85 L507.00 246.55 L508.00 246.28 L509.00 246.02 L510.00 245.78 L511.00 245.56 L512.00 245.36 L513.00 245.17 L514.00 245.00 L515.00 244.83 L516.00 244.65 L517.00 244.49 L518.00 244.37 L519.00 244.31 L520.00 244.31 L521.00 244.39 L522.00 244.52 L523.00 244.69 L524.00 244.86 L525.00 245.03 L526.00 245.21 L527.00 245.40 L528.00 245.61 L529.00 245.83 L530.00 246.07 L531.00 246.33 L532.00 246.61 L533.00 246.91 L534.00 247.23 L535.00 247.57 L536.00 247.96 L537.00 248.41 L538.00 248.91 L539.00 249.46 L540.00 250.04 L541.00 250.67 L542.00 251.32 L543.00 251.99 L544.00 252.69 L545.00 253.39 L546.00 254.18 L547.00 255.06 L548.00 255.99 L549.00 256.96 L550.00 257.92 L551.00 258.86 L552.00 259.75 L553.00 260.59 L554.00 261.45 L555.00 262.32 L556.00 263.20 L557.00 264.05 L558.00 264.86 L559.00 265.62 L560.00 266.30 L561.00 266.89 L562.00 267.38 L563.00 267.77 L564.00 268.15 L565.00 268.52 L566.00 268.85 L567.00 269.12 L568.00 269.34 L569.00 269.47 L570.00 269.50 L571.00 269.43 L572.00 269.30 L573.00 269.11 L574.00 268.91 L575.00 268.71 L576.00 268.49 L577.00 268.23 L578.00 267.95 L579.00 267.64 L580.00 267.31 L581.00 266.98 L582.00 266.65 L583.00 266.32 L584.00 265.99 L585.00 265.69 L586.00 265.39 L587.00 265.08 L588.00 264.76 L589.00 264.45 L590.00 264.14 L591.00 263.85 L592.00 263.56 L593.00 263.30 L594.00 263.05 L595.00 262.82 L596.00 262.60 L597.00 262.38 L598.00 262.18 L599.00 261.98 L600.00 261.80 L601.00 261.63 L602.00 261.47 L603.00 261.31 L604.00 261.14 L605.00 260.97 L606.00 260.82 L607.00 260.68 L608.00 260.58 L609.00 260.52 L610.00 260.50 L611.00 260.50 L612.00 260.51 L613.00 260.52 L614.00 260.53 L615.00 260.55 L616.00 260.57 L617.00 260.59 L618.00 260.68 L619.00 260.91 L620.00 261.27 L621.00 261.71 L622.00 262.20 L623.00 262.75 L624.00 263.49 L625.00 264.42 L626.00 265.50 L627.00 266.71 L628.00 268.23 L629.00 270.04 L630.00 272.07 L631.00 274.36 L632.00 277.05 L633.00 280.09 L634.00 283.49 L635.00 287.38 L636.00 291.86 L637.00 297.15 L638.00 303.67 L639.00 310.63 L640.00 317.41 L641.00 324.30 L642.00 331.12 L643.00 337.64 L644.00 344.27 L645.00 351.55 L646.00 359.49 L647.00 367.91 L648.00 377.02 L649.00 385.61 L650.00 393.53 L651.00 401.38 L652.00 409.28 L653.00 417.20 L654.00 425.18 L655.00 433.20 L656.00 441.13 L657.00 449.14 L658.00 457.46 L659.00 466.29 L660.00 475.56 L661.00 485.16 L662.00 495.00 L663.00 505.28 L664.00 515.95 L665.00 525.67 L666.00 534.71 L667.00 543.25 L668.00 551.21 L669.00 558.56 L670.00 565.39 L671.00 571.89 L672.00 578.22 L673.00 584.57 L674.00 591.09 L675.00 597.70 L676.00 604.14 L677.00 610.18 L678.00 615.59 L679.00 620.56 L680.00 625.26 L681.00 629.67 L682.00 633.77 L683.00 637.57 L684.00 641.08 L685.00 644.43 L686.00 647.55 L687.00 650.39 L688.00 652.91 L689.00 655.09 L690.00 657.10" stroke="#00f" stroke-width="3.1"/>
<path d="M149.68 687.45 L150.78 687.45M164.73 687.45 L166.43 687.45M180.38 687.45 L182.08 687.45M196.03 687.45 L197.73 687.45M211.68 687.45 L213.38 687.45M227.33 687.45 L229.03 687.45M242.98 687.44 L244.68 687.44M258.63 687.42 L260.33 687.42M274.28 687.34 L275.98 687.33M289.93 687.07 L291.63 687.01M305.58 686.10 L307.28 685.90M321.23 682.69 L322.93 682.00M336.53 671.45 L337.83 669.75M345.46 655.80 L346.16 654.10M350.95 640.15 L351.44 638.45M355.03 624.50 L355.42 622.80M358.36 608.85 L358.69 607.15M361.22 593.20 L361.51 591.50M363.77 577.55 L364.03 575.85M366.10 561.90 L366.34 560.20M368.27 546.25 L368.50 544.55M370.35 530.60 L370.57 528.90M372.35 514.95 L372.56 513.25M374.31 499.30 L374.52 497.60M376.25 483.65 L376.46 481.95M378.20 468.00 L378.41 466.30M380.18 452.35 L380.40 450.65M382.22 436.70 L382.45 435.00M384.36 421.05 L384.60 419.35M386.63 405.40 L386.89 403.70M389.09 389.75 L389.37 388.05M391.83 374.10 L392.14 372.40M394.96 358.45 L395.34 356.75M398.73 342.80 L399.20 341.10M403.61 327.15 L404.25 325.45M410.87 311.50 L411.94 309.80M424.48 297.38 L426.18 296.44M440.13 292.08 L441.83 291.81M455.78 290.57 L457.48 290.49M471.43 290.14 L473.13 290.12M487.08 290.02 L488.78 290.02M502.73 289.99 L504.43 289.99M518.38 289.98 L520.08 289.98M534.03 289.99 L535.73 289.99M549.68 290.01 L551.38 290.02M565.33 290.12 L567.03 290.14M580.98 290.48 L582.68 290.55M596.63 291.76 L598.33 292.03M612.28 296.27 L613.98 297.18M626.64 309.46 L627.73 311.16M634.42 325.11 L635.06 326.81M639.51 340.76 L639.97 342.46M643.39 356.41 L643.76 358.11M646.59 372.06 L646.91 373.76M649.37 387.71 L649.65 389.41M651.86 403.36 L652.12 405.06M654.15 419.01 L654.39 420.71M656.30 434.66 L656.53 436.36M658.36 450.31 L658.58 452.01M660.35 465.96 L660.56 467.66M662.30 481.61 L662.51 483.31M664.24 497.26 L664.45 498.96M666.20 512.91 L666.41 514.61M668.19 528.56 L668.41 530.26M670.25 544.21 L670.48 545.91M672.41 559.86 L672.66 561.56M674.72 575.51 L674.98 577.21M677.23 591.16 L677.52 592.86M149.68 687.45 L150.78 687.45M164.73 687.45 L166.43 687.45M180.38 687.45 L182.08 687.45M196.03 687.45 L197.73 687.45M211.68 687.45 L213.38 687.45M227.33 687.45 L229.03 687.45M242.98 687.45 L244.68 687.45M258.63 687.45 L260.33 687.45M274.28 687.46 L275.98 687.46M289.93 687.49 L291.63 687.49M305.58 687.59 L307.28 687.61M321.23 687.93 L322.93 688.00M336.88 689.12 L338.58 689.35M352.53 692.82 L354.23 693.50M368.18 701.72 L369.88 703.01M383.83 714.11 L385.53 715.33M399.48 722.72 L401.18 723.30M415.13 726.24 L416.83 726.43M430.78 727.35 L432.48 727.41M446.43 727.68 L448.13 727.70M462.08 727.77 L463.78 727.78M477.73 727.80 L479.43 727.80M493.38 727.81 L495.08 727.81M509.03 727.81 L510.73 727.81M524.68 727.81 L526.38 727.81M540.33 727.81 L542.03 727.81M555.98 727.80 L557.68 727.80M571.63 727.79 L573.33 727.78M587.28 727.72 L588.98 727.71M602.93 727.51 L604.63 727.46M618.58 726.76 L620.28 726.60M634.23 724.29 L635.93 723.82M649.88 717.57 L651.58 716.48M665.53 705.71 L667.23 704.34" stroke="#000" stroke-width="2.9" stroke-linecap="round"/>
<path d="M150.00 687.45 L374.60 687.45 L377.20 289.98 L661.60 289.98 L664.20 687.45 L889.12 687.45" stroke="#000" stroke-width="3.0" stroke-dasharray="11.00 15.20" stroke-linecap="round"/>
<path d="M150.00 687.45 L374.60 687.45 L377.20 727.81 L661.60 727.81 L664.20 687.45 L889.12 687.45" stroke="#000" stroke-width="3.0" stroke-dasharray="11.00 15.20" stroke-linecap="round"/>
</g>
<g opacity="0.999">
<text transform="translate(110.16 698.55) scale(0.925 1.050)" font-size="36.50" stroke="#000" stroke-width="0.15">0</text>
<text transform="translate(68.80 576.25) scale(1.000 1.050)" font-size="36.50" stroke="#000" stroke-width="0.15">2</text>
<text transform="translate(89.86 576.25) scale(0.925 1.050)" font-size="36.50" stroke="#000" stroke-width="0.15">0</text>
<text transform="translate(110.16 576.25) scale(0.925 1.050)" font-size="36.50" stroke="#000" stroke-width="0.15">0</text>
<text transform="translate(68.80 453.95) scale(1.000 1.050)" font-size="36.50" stroke="#000" stroke-width="0.15">4</text>
<text transform="translate(89.86 453.95) scale(0.925 1.050)" font-size="36.50" stroke="#000" stroke-width="0.15">0</text>
<text transform="translate(110.16 453.95) scale(0.925 1.050)" font-size="36.50" stroke="#000" stroke-width="0.15">0</text>
<text transform="translate(69.57 331.65) scale(0.925 1.050)" font-size="36.50" stroke="#000" stroke-width="0.15">6</text>
<text transform="translate(89.86 331.65) scale(0.925 1.050)" font-size="36.50" stroke="#000" stroke-width="0.15">0</text>
<text transform="translate(110.16 331.65) scale(0.925 1.050)" font-size="36.50" stroke="#000" stroke-width="0.15">0</text>
<text transform="translate(69.56 209.35) scale(0.925 1.050)" font-size="36.50" stroke="#000" stroke-width="0.15">8</text>
<text transform="translate(89.86 209.35) scale(0.925 1.050)" font-size="36.50" stroke="#000" stroke-width="0.15">0</text>
<text transform="translate(110.16 209.35) scale(0.925 1.050)" font-size="36.50" stroke="#000" stroke-width="0.15">0</text>
<text transform="translate(110.16 133.00) scale(0.925 1.050)" font-size="36.50" stroke="#000" stroke-width="0.15">0</text>
<text transform="translate(68.80 10.70) scale(1.000 1.050)" font-size="36.50" stroke="#000" stroke-width="0.15">2</text>
<text transform="translate(89.86 10.70) scale(0.925 1.050)" font-size="36.50" stroke="#000" stroke-width="0.15">0</text>
<text transform="translate(110.16 10.70) scale(0.925 1.050)" font-size="36.50" stroke="#000" stroke-width="0.15">0</text>
<text transform="translate(287.62 798.10) scale(1.000 0.990)" font-size="36.50" stroke="#000" stroke-width="0.15">-</text>
<text transform="translate(299.78 798.10) scale(1.000 1.050)" font-size="36.50" stroke="#000" stroke-width="0.15">1</text>
<rect x="301.97" y="794.27" width="6.99" height="4.43" fill="#fff"/>
<rect x="312.18" y="794.27" width="7.49" height="4.43" fill="#fff"/>
<text transform="translate(320.84 798.10) scale(0.925 1.050)" font-size="36.50" stroke="#000" stroke-width="0.15">0</text>
<text transform="translate(510.01 798.10) scale(0.925 1.050)" font-size="36.50" stroke="#000" stroke-width="0.15">0</text>
<text transform="translate(459.79 846.70) scale(1.000 0.990)" font-size="50.10" stroke="#000" stroke-width="0.30">r</text>
<text transform="translate(491.66 846.70) scale(0.870 1.000)" font-size="50.10" stroke="#000" stroke-width="0.30">(</text>
<text transform="translate(507.08 846.70) scale(1.000 0.990)" font-size="50.10" stroke="#000" stroke-width="0.30">f</text>
<text transform="translate(520.99 846.70) scale(1.000 0.990)" font-size="50.10" stroke="#000" stroke-width="0.30">m</text>
<text transform="translate(563.63 846.70) scale(0.870 1.000)" font-size="50.10" stroke="#000" stroke-width="0.30">)</text>
<text class="sym" transform="translate(49.20 403.60) rotate(-90) scale(1.120 1.000)" font-size="47.20">&#931;</text>
<text transform="translate(49.20 375.22) rotate(-90) scale(0.870 1.000)" font-size="50.50" stroke="#000" stroke-width="0.30">(</text>
<text transform="translate(49.20 359.68) rotate(-90) scale(1.000 0.990)" font-size="50.50" stroke="#000" stroke-width="0.30">r</text>
<text transform="translate(49.20 341.96) rotate(-90) scale(0.870 1.000)" font-size="50.50" stroke="#000" stroke-width="0.30">)</text>
<text transform="translate(49.20 312.02) rotate(-90) scale(1.000 0.990)" font-size="50.50" stroke="#000" stroke-width="0.30">a</text>
<text transform="translate(49.20 283.93) rotate(-90) scale(1.000 0.990)" font-size="50.50" stroke="#000" stroke-width="0.30">n</text>
<text transform="translate(49.20 255.85) rotate(-90) scale(1.000 0.990)" font-size="50.50" stroke="#000" stroke-width="0.30">d</text>
<text class="sym" transform="translate(49.20 215.60) rotate(-90) scale(1.030 1.000)" font-size="46.50">&#916;</text>
<text transform="translate(49.20 186.52) rotate(-90) scale(0.870 1.000)" font-size="50.50" stroke="#000" stroke-width="0.30">(</text>
<text transform="translate(49.20 170.98) rotate(-90) scale(1.000 0.990)" font-size="50.50" stroke="#000" stroke-width="0.30">r</text>
<text transform="translate(49.20 153.26) rotate(-90) scale(0.870 1.000)" font-size="50.50" stroke="#000" stroke-width="0.30">)</text>
<text transform="translate(49.20 122.04) rotate(-90) scale(0.870 1.000)" font-size="50.50" stroke="#000" stroke-width="0.30">(</text>
<text transform="translate(49.20 106.50) rotate(-90) scale(1.000 1.040)" font-size="50.50" stroke="#000" stroke-width="0.30">M</text>
<text transform="translate(49.20 64.44) rotate(-90) scale(1.000 0.990)" font-size="50.50" stroke="#000" stroke-width="0.30">e</text>
<text transform="translate(49.20 36.33) rotate(-90) scale(0.910 1.040)" font-size="50.50" stroke="#000" stroke-width="0.30">V</text>
<text transform="translate(49.20 1.76) rotate(-90) scale(0.870 1.000)" font-size="50.50" stroke="#000" stroke-width="0.30">)</text>
<g fill="none" stroke-linecap="round">
<path d="M178.8 259.9 H262.8" stroke="#f00" stroke-width="3.1"/>
<path d="M178.8 307.4 H262.8" stroke="#00f" stroke-width="3.1"/>
<path d="M178.5 354.1 H262.8" stroke="#000" stroke-width="2.9" stroke-dasharray="1.70 14.00" stroke-linecap="round"/>
<path d="M178.8 400.8 H262.8" stroke="#000" stroke-width="3.0" stroke-dasharray="11.00 15.20" stroke-linecap="round"/>
</g>
<text class="sym" transform="translate(273.00 272.30) scale(1.120 1.000)" font-size="34.20" text-anchor="start">&#931;</text>
<text transform="translate(295.86 272.30) scale(0.870 1.000)" font-size="38.00" stroke="#000" stroke-width="0.15">(</text>
<text transform="translate(307.55 272.30) scale(1.000 0.990)" font-size="38.00" stroke="#000" stroke-width="0.15">r</text>
<text transform="translate(320.89 272.30) scale(0.870 1.000)" font-size="38.00" stroke="#000" stroke-width="0.15">)</text>
<text class="sym" transform="translate(272.60 319.50) scale(1.030 1.000)" font-size="35.60" text-anchor="start">&#916;</text>
<text transform="translate(295.86 319.50) scale(0.870 1.000)" font-size="38.00" stroke="#000" stroke-width="0.15">(</text>
<text transform="translate(307.55 319.50) scale(1.000 0.990)" font-size="38.00" stroke="#000" stroke-width="0.15">r</text>
<text transform="translate(320.89 319.50) scale(0.870 1.000)" font-size="38.00" stroke="#000" stroke-width="0.15">)</text>
<text transform="translate(274.20 366.10) scale(1.000 1.040)" font-size="37.75" stroke="#000" stroke-width="0.15">W</text>
<text transform="translate(309.83 366.10) scale(1.000 0.990)" font-size="37.75" stroke="#000" stroke-width="0.15">.</text>
<text transform="translate(330.81 366.10) scale(1.000 1.040)" font-size="37.75" stroke="#000" stroke-width="0.15">S</text>
<text transform="translate(355.99 366.10) scale(1.000 0.990)" font-size="37.75" stroke="#000" stroke-width="0.15">.</text>
<text transform="translate(273.20 412.80) scale(1.000 1.040)" font-size="38.00" stroke="#000" stroke-width="0.15">S</text>
<text transform="translate(298.55 412.80) scale(1.000 0.990)" font-size="38.00" stroke="#000" stroke-width="0.15">.</text>
<text transform="translate(319.66 412.80) scale(1.000 1.040)" font-size="38.00" stroke="#000" stroke-width="0.15">W</text>
<text transform="translate(355.53 412.80) scale(1.000 0.990)" font-size="38.00" stroke="#000" stroke-width="0.15">.</text>
<path d="M380 53.65 H658" stroke="#000" stroke-width="0.95" fill="none"/>
<path d="M375.6 53.65 l15.6 -3.7 v7.4 z M662.2 53.65 l-15.6 -3.7 v7.4 z" fill="#000"/>
<rect x="481.4" y="38" width="73.2" height="30" fill="#fff"/>
<text transform="translate(486.34 63.60) scale(1.000 1.040)" font-size="29.20" stroke="#000" stroke-width="0.15">1</text>
<rect x="488.09" y="60.56" width="5.59" height="3.64" fill="#fff"/>
<rect x="496.26" y="60.56" width="5.99" height="3.64" fill="#fff"/>
<text transform="translate(502.58 63.60) scale(1.000 1.040)" font-size="29.20" stroke="#000" stroke-width="0.15">4</text>
<text transform="translate(518.82 63.60) scale(1.000 0.990)" font-size="29.20" stroke="#000" stroke-width="0.15">f</text>
<text transform="translate(526.93 63.60) scale(1.000 0.990)" font-size="29.20" stroke="#000" stroke-width="0.15">m</text>
</g>
</svg></body></html>
